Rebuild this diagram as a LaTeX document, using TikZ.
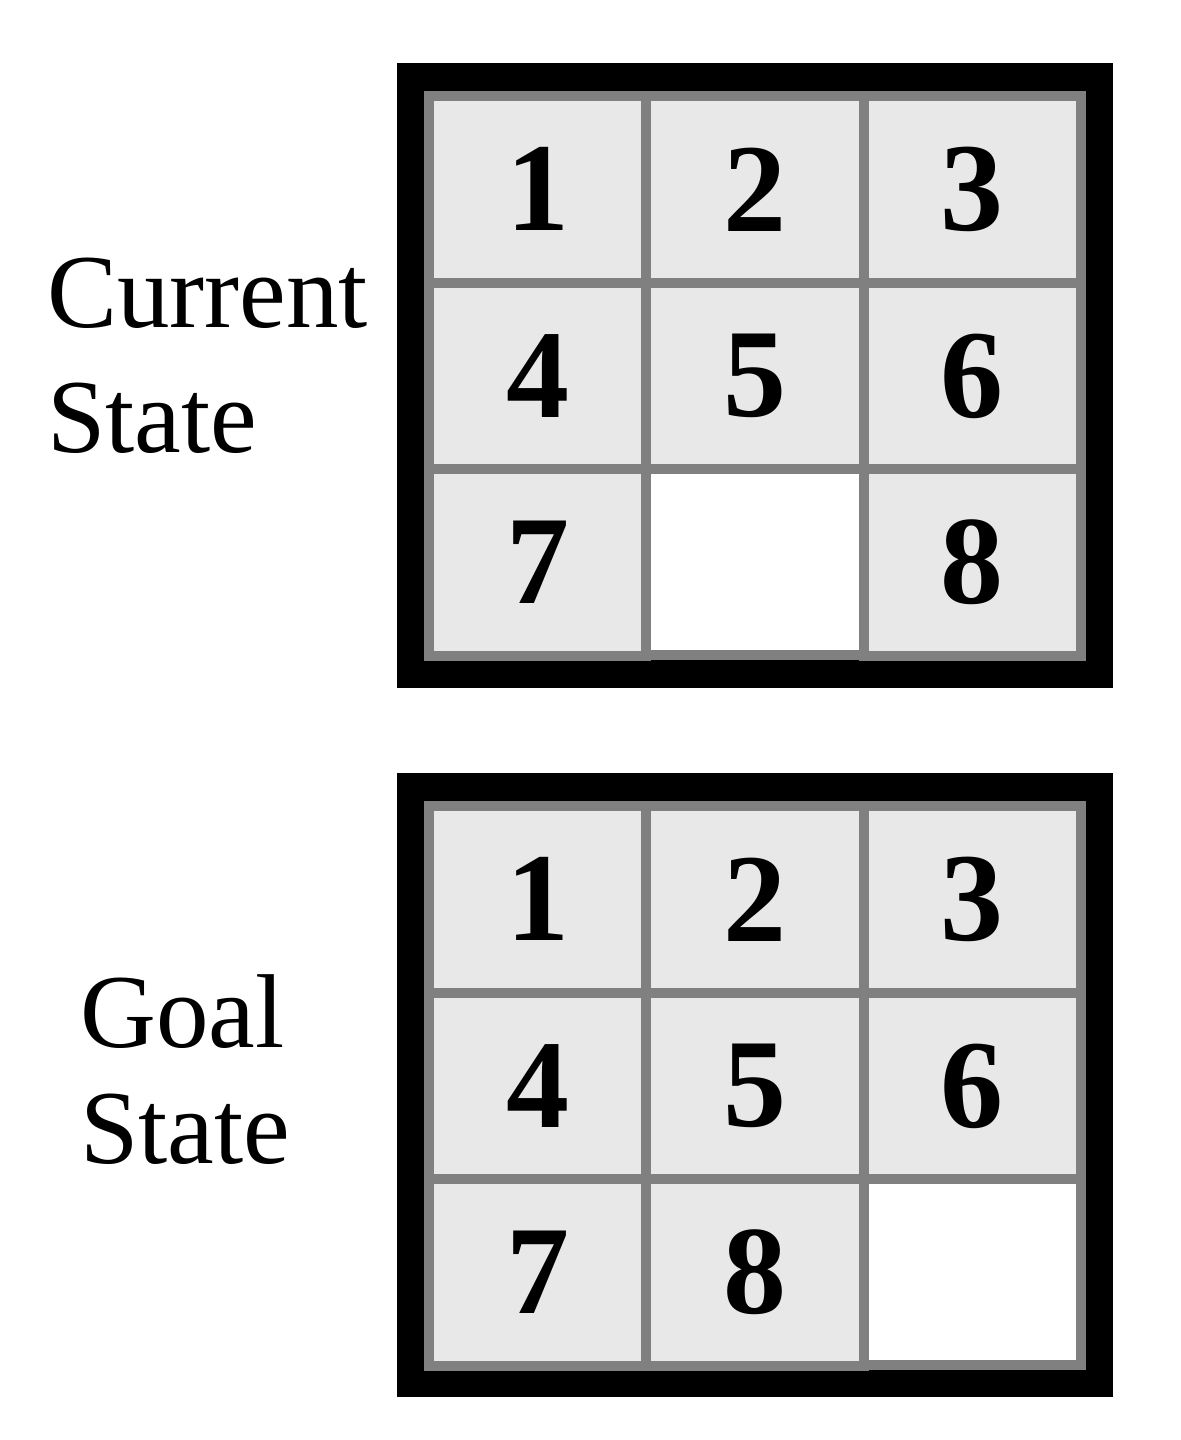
\documentclass[tikz,border=0pt]{standalone}
\usepackage{fontspec}
\setmainfont{Liberation Serif}
\usetikzlibrary{positioning}
\definecolor{tilefill}{HTML}{E8E8E8}
\definecolor{gridline}{HTML}{808080}

\begin{document}
\begin{tikzpicture}[x=0.5pt,y=-0.5pt,
  tile/.style={draw=gridline,fill=tilefill,line width=5pt,inner sep=0pt,
    minimum width=108.65pt,minimum height=93.35pt,
    font=\fontsize{63}{63}\selectfont\bfseries},
  blank/.style={tile,fill=white},
  statelabel/.style={anchor=base west,inner sep=0pt,font=\fontsize{52.5}{52.5}\selectfont}]
\useasboundingbox (0,0) rectangle (1180,1440);
% current state
\fill (397,63) rectangle (1113,688);
\foreach \c/\r/\n in {0/0/1,1/0/2,2/0/3,0/1/4,1/1/5,2/1/6,0/2/7,2/2/8}{
  \node[tile] (cur-\n) at ({537.7+217.3*\c},{189.3+186.7*\r}) {\n};
}
\node[blank] (cur-blank) at (755,562) {};
\node[statelabel] (cur-top) at (47,327) {Current};
\node[statelabel] (cur-bot) at (47,452) {State};
% goal state
\fill (397,773) rectangle (1113,1397);
\foreach \c/\r/\n in {0/0/1,1/0/2,2/0/3,0/1/4,1/1/5,2/1/6,0/2/7,1/2/8}{
  \node[tile] (goal-\n) at ({537.7+217.3*\c},{899.3+186.7*\r}) {\n};
}
\node[blank] (goal-blank) at (972.3,1272) {};
\node[statelabel] (goal-top) at (80,1047) {Goal};
\node[statelabel] (goal-bot) at (80,1163) {State};
\end{tikzpicture}
\end{document}
